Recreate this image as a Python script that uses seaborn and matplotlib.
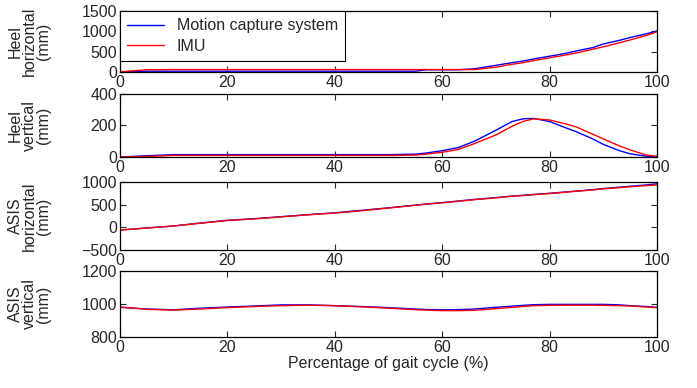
import numpy as np
import pandas as pd
import matplotlib.pyplot as plt
import seaborn as sns

sns.set_style('ticks')
plt.rcParams['font.family'] = ['Liberation Sans', 'DejaVu Sans']
plt.rcParams['font.size'] = 11.5

# --- values (percentage of gait cycle) ---
pct = [0, 5, 10, 15, 20, 25, 30, 35, 40, 45, 50, 55, 57, 60, 63, 66, 70,
       73, 75, 77, 80, 83, 85, 88, 90, 93, 95, 98, 100]

heel_h_mocap = [5, 20, 20, 20, 20, 20, 20, 20, 20, 20, 20, 20, 55, 55, 55,
                80, 165, 230, 270, 320, 390, 460, 520, 600, 690, 780, 850, 940, 1010]
heel_h_imu = [5, 55, 60, 60, 60, 60, 60, 60, 60, 60, 60, 60, 60, 60, 60,
              60, 120, 190, 230, 280, 350, 420, 470, 560, 620, 720, 790, 900, 990]

heel_v_mocap = [0, 8, 15, 15, 15, 15, 15, 15, 15, 15, 15, 18, 25, 40, 60,
                100, 170, 225, 242, 245, 225, 185, 160, 115, 80, 40, 20, 5, 0]
heel_v_imu = [0, 3, 10, 10, 10, 10, 10, 10, 10, 10, 10, 12, 18, 30, 48,
              85, 140, 195, 225, 242, 235, 210, 190, 145, 115, 70, 45, 12, 5]

asis_h_mocap = [-60, -15, 30, 95, 155, 190, 235, 280, 320, 375, 430, 490, 515, 545,
                580, 615, 655, 690, 705, 725, 750, 780, 800, 830, 855, 885, 905, 935, 960]
asis_h_imu = [-60, -15, 30, 90, 150, 185, 230, 275, 315, 365, 425, 485, 510, 540,
              575, 610, 650, 685, 700, 720, 745, 775, 795, 825, 848, 875, 895, 920, 935]

asis_v_mocap = [980, 970, 965, 975, 982, 988, 995, 995, 990, 985, 978, 970, 967, 965,
                966, 970, 980, 987, 992, 996, 998, 998, 998, 998, 998, 995, 990, 985, 980]
asis_v_imu = [982, 968, 963, 970, 978, 985, 990, 993, 990, 983, 975, 966, 963, 960,
              960, 962, 972, 980, 985, 990, 992, 993, 993, 993, 992, 990, 988, 982, 978]

panels = [
    ('Heel\nhorizontal\n(mm)', heel_h_mocap, heel_h_imu, (0, 1500), [0, 500, 1000, 1500]),
    ('Heel\nvertical\n(mm)', heel_v_mocap, heel_v_imu, (0, 400), [0, 200, 400]),
    ('ASIS\nhorizontal\n(mm)', asis_h_mocap, asis_h_imu, (-500, 1000), [-500, 0, 500, 1000]),
    ('ASIS\nvertical\n(mm)', asis_v_mocap, asis_v_imu, (800, 1200), [800, 1000, 1200]),
]

# axes boxes in figure fractions (left, bottom, width, height)
boxes = [
    (0.1722, 0.8144, 0.7705, 0.1570),
    (0.1722, 0.5954, 0.7705, 0.1624),
    (0.1722, 0.3557, 0.7705, 0.1753),
    (0.1722, 0.1314, 0.7705, 0.1700),
]

fig = plt.figure(figsize=(6.97, 3.88), dpi=100)

for i, (label, mocap, imu, ylim, yticks) in enumerate(panels):
    ax = fig.add_axes(boxes[i])
    df = pd.DataFrame({'pct': pct, 'mocap': mocap, 'imu': imu})
    sns.lineplot(data=df, x='pct', y='mocap', ax=ax, color='#0000ff', lw=1,
                 label='Motion capture system' if i == 0 else None)
    sns.lineplot(data=df, x='pct', y='imu', ax=ax, color='#ff0000', lw=1,
                 label='IMU' if i == 0 else None)
    ax.set_xlim(0, 100)
    ax.set_ylim(*ylim)
    ax.set_xticks([0, 20, 40, 60, 80, 100])
    ax.set_yticks(yticks)
    ax.tick_params(direction='in', top=True, right=True, length=4, width=0.8,
                   labelsize=11.5, pad=2)
    for sp in ax.spines.values():
        sp.set_linewidth(0.9)
        sp.set_color('black')
    ax.set_xlabel('')
    ax.set_ylabel(label, fontsize=11.5, linespacing=0.95, labelpad=6)
    ax.yaxis.set_label_coords(-0.128, 0.5)
    if i == 0:
        leg = ax.legend(loc='upper left', frameon=True, fancybox=False,
                        edgecolor='black', framealpha=1, fontsize=11.5,
                        handlelength=2.3, borderpad=0.45, labelspacing=0.35,
                        borderaxespad=0)
        leg.get_frame().set_linewidth(0.8)
    else:
        if ax.get_legend():
            ax.get_legend().remove()
    if i == 3:
        ax.set_xlabel('Percentage of gait cycle (%)', fontsize=11.5, labelpad=1)

fig.savefig('out.png', dpi=100)
